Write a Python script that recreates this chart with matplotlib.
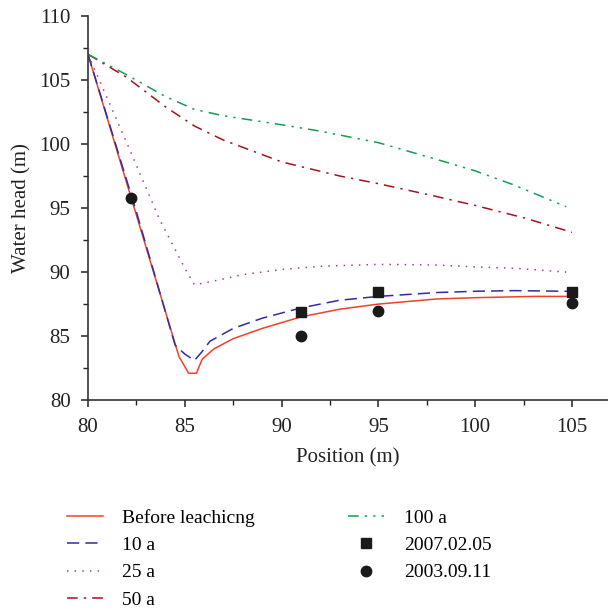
import numpy as np
import matplotlib
matplotlib.use('Agg')
import matplotlib.pyplot as plt
from matplotlib.ticker import MultipleLocator

plt.rcParams['font.family'] = ['Liberation Serif', 'DejaVu Serif']

# simulated curves (position m, water head m)
x_before = [80, 84.7, 85.2, 85.6, 85.9, 86.5, 87.5, 89, 91, 93, 95, 98, 100, 103, 104.8]
h_before = [107, 83.4, 82.1, 82.1, 83.2, 84.0, 84.8, 85.6, 86.5, 87.1, 87.5, 87.9, 88.0, 88.1, 88.1]

x_10a = [80, 82.5, 84.5, 85.0, 85.5, 85.9, 86.3, 87.5, 89, 91, 93, 95, 98, 100, 102, 104.8]
h_10a = [107, 94.7, 84.3, 83.6, 83.1, 83.8, 84.6, 85.6, 86.4, 87.2, 87.8, 88.1, 88.4, 88.5, 88.55, 88.5]

x_25a = [80, 82, 83.7, 85.0, 85.5, 86.5, 88, 90, 92, 95, 98, 100, 102, 104.7]
h_25a = [107, 100.1, 94.1, 90.3, 89.0, 89.3, 89.8, 90.2, 90.45, 90.6, 90.55, 90.4, 90.3, 90.0]

x_50a = [80, 82, 84, 85.5, 87, 90, 93, 95, 98, 100, 102.6, 105]
h_50a = [107, 105.2, 102.9, 101.4, 100.3, 98.6, 97.5, 96.9, 95.9, 95.2, 94.2, 93.1]

x_100a = [80, 82, 84, 85.5, 87, 90, 92, 95, 98, 100, 102, 104.7]
h_100a = [107, 105.4, 103.7, 102.7, 102.2, 101.5, 101.0, 100.1, 98.8, 97.9, 96.8, 95.1]

# observations
x_2007 = [91, 95, 105]
h_2007 = [86.85, 88.45, 88.45]
x_2003 = [82.2, 91, 95, 105]
h_2003 = [95.8, 85.0, 86.95, 87.6]

fig = plt.figure(figsize=(6.08, 6.10), dpi=100)
ax = fig.add_axes([0.1447, 0.344, 0.855, 0.630])

ax.plot(x_before, h_before, color='#f0412a', lw=1.1, label='Before leachicng')
ax.plot(x_10a, h_10a, color='#2e2e9c', lw=1.1, dashes=(8, 4), label='10 a')
ax.plot(x_25a, h_25a, color='#a23aaf', lw=1.1, dashes=(1, 4), label='25 a')
ax.plot(x_50a, h_50a, color='#a0141e', lw=1.1, dashes=(7, 4, 1.5, 4), label='50 a')
ax.plot(x_100a, h_100a, color='#12a050', lw=1.1, dashes=(7, 4, 1.5, 4, 1.5, 4), label='100 a')
ax.plot(x_2007, h_2007, 's', color='#1a1a1a', ms=7, label='2007.02.05')
ax.plot(x_2003, h_2003, 'o', color='#1a1a1a', ms=7.5, label='2003.09.11')

ax.set_xlim(80, 106.85)
ax.set_ylim(80, 110)
ax.xaxis.set_major_locator(MultipleLocator(5))
ax.xaxis.set_minor_locator(MultipleLocator(2.5))
ax.yaxis.set_major_locator(MultipleLocator(5))
ax.yaxis.set_minor_locator(MultipleLocator(2.5))
ax.spines['top'].set_visible(False)
ax.spines['right'].set_visible(False)
for s in ('left', 'bottom'):
    ax.spines[s].set_color('#333333')
    ax.spines[s].set_linewidth(1.2)
ax.tick_params(which='major', direction='out', length=5, width=1.1, pad=7.5,
               labelsize=15, colors='#222222')
ax.tick_params(which='minor', direction='out', length=3.5, width=1.0, colors='#222222')

ax.set_xlabel('Position (m)', fontsize=15, color='#222222', labelpad=8.5)
ax.set_ylabel('Water head (m)', fontsize=15, color='#222222', labelpad=5.5)

fig.legend(loc='upper left', bbox_to_anchor=(0.0974, 0.1784), ncol=2, frameon=False,
           fontsize=14, handlelength=1.85, handletextpad=1.0, columnspacing=4.8,
           labelspacing=0.5, borderaxespad=0)

fig.savefig('out.png', dpi=100)
